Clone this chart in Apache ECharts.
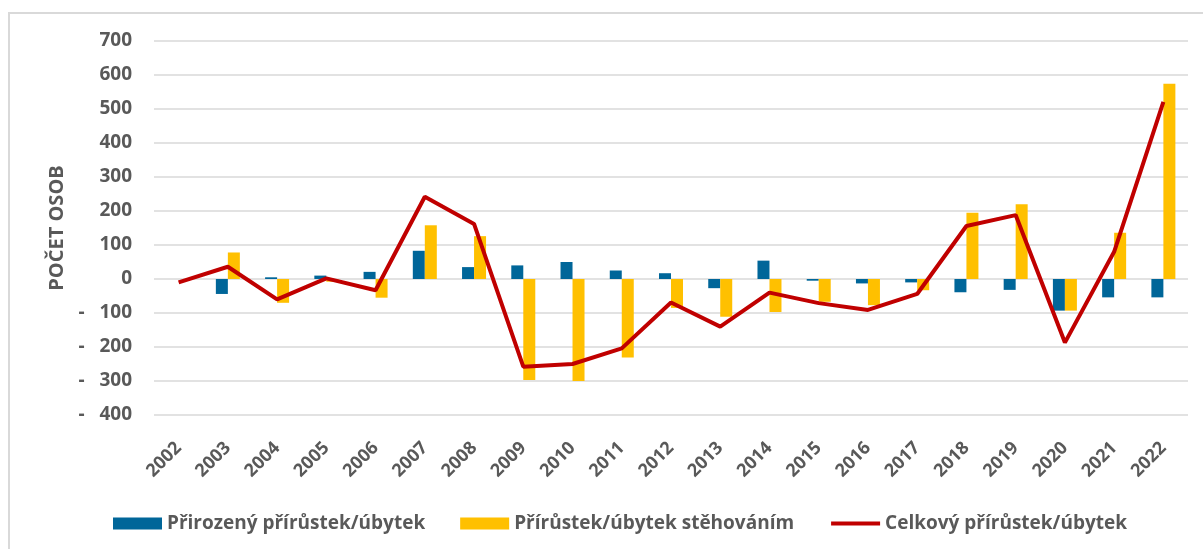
<!DOCTYPE html>
<html>
<head>
<meta charset="utf-8">
<script src="https://cdn.jsdelivr.net/npm/echarts@6/dist/echarts.min.js"></script>
<style>
  html, body { margin: 0; padding: 0; background: #fff; }
  #chart { width: 1203px; height: 549px; }
</style>
</head>
<body>
<div id="chart"></div>
<script>
// roky
var years = ['2002','2003','2004','2005','2006','2007','2008','2009','2010','2011','2012',
             '2013','2014','2015','2016','2017','2018','2019','2020','2021','2022'];
// přirozený přírůstek/úbytek
var natural = [null, -44, 5, 10, 21, 83, 35, 40, 50, 25, 17,
               -27, 54, -5, -13, -10, -39, -32, -93, -54, -54];
// přírůstek/úbytek stěhováním
var migration = [null, 78, -70, -8, -55, 158, 126, -297, -300, -231, -85,
                 -111, -97, -67, -77, -33, 195, 220, -93, 136, 574];
// celkový přírůstek/úbytek
var total = [-10, 36, -60, 2, -33, 242, 162, -258, -250, -204, -69,
             -140, -40, -71, -91, -44, 156, 188, -187, 80, 521];

var names = ['Přirozený přírůstek/úbytek', 'Přírůstek/úbytek stěhováním', 'Celkový přírůstek/úbytek'];
var fontFam = '"Open Sans", "DejaVu Sans", sans-serif';
var gray = '#595959';

var chart = echarts.init(document.getElementById('chart'));
var option = {
    animation: false,
    graphic: [{
        type: 'rect',
        shape: { x: 9, y: 13, width: 1300, height: 600 },
        style: { fill: 'none', stroke: '#d9d9d9', lineWidth: 2 },
        silent: true
    }],
    grid: { left: 154, right: 15, top: 41, bottom: 134 },
    legend: {
        left: 108,
        top: 509,
        itemGap: 35,
        itemWidth: 49,
        itemHeight: 12,
        textStyle: { color: gray, fontSize: 19, fontWeight: 'bold', fontFamily: fontFam },
        data: [
            { name: names[0], icon: 'rect' },
            { name: names[1], icon: 'rect' },
            { name: names[2], itemStyle: { opacity: 0 }, lineStyle: { width: 4, color: '#c00000' } }
        ]
    },
    xAxis: {
        type: 'category',
        data: years,
        axisLine: { show: false },
        axisTick: { show: false },
        axisLabel: {
            rotate: 45,
            interval: 0,
            margin: 30,
            color: gray,
            fontSize: 18,
            fontWeight: 'bold',
            fontFamily: fontFam
        }
    },
    yAxis: {
        type: 'value',
        min: -400,
        max: 700,
        interval: 100,
        name: 'POČET OSOB',
        nameLocation: 'middle',
        nameGap: 84,
        nameTextStyle: { color: gray, fontSize: 20, fontWeight: 'bold', fontFamily: fontFam },
        axisLine: { show: false },
        axisTick: { show: false },
        splitLine: { lineStyle: { color: '#d9d9d9', width: 1.5 } },
        axisLabel: {
            margin: 22,
            color: gray,
            fontSize: 19,
            fontWeight: 'bold',
            fontFamily: fontFam,
            formatter: function (v) {
                return v < 0 ? '-   ' + Math.abs(v) : String(v);
            }
        }
    },
    series: [
        {
            name: names[0],
            type: 'bar',
            data: natural,
            barWidth: 12,
            barGap: '0%',
            itemStyle: { color: '#006699' }
        },
        {
            name: names[1],
            type: 'bar',
            data: migration,
            barWidth: 12,
            barGap: '0%',
            itemStyle: { color: '#ffc000' }
        },
        {
            name: names[2],
            type: 'line',
            data: total,
            symbol: 'none',
            lineStyle: { color: '#c00000', width: 4 },
            itemStyle: { color: '#c00000' },
            z: 5
        }
    ]
};
chart.setOption(option);
</script>
</body>
</html>
